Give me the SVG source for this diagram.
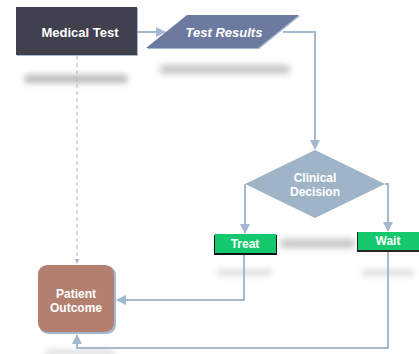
<svg xmlns="http://www.w3.org/2000/svg" width="419" height="354" viewBox="0 0 419 354">
<style>
.lbl{font-family:"Liberation Sans",Arial,sans-serif;font-weight:bold;fill:#ffffff;text-anchor:middle;dominant-baseline:central}
.conn{fill:none;stroke:#a3b9d0;stroke-width:2}
.dash{fill:none;stroke:#a3b9d0;stroke-width:1;stroke-dasharray:4 3}
.blur{fill:#b8b8b8;filter:url(#bl)}
</style>
<defs>
<filter id="bl" x="-30%" y="-200%" width="160%" height="500%"><feGaussianBlur stdDeviation="3"/></filter>
<marker id="ah" viewBox="0 0 10 10" refX="9" refY="5" markerWidth="5" markerHeight="5" orient="auto"><path d="M0,0 L10,5 L0,10 z" fill="#a3b9d0"/></marker>
</defs>
<rect width="419" height="354" fill="#ffffff"/>
<g id="shadows">
<rect class="blur" x="24" y="75" width="104" height="8" rx="4"/>
<rect class="blur" x="160" y="65" width="130" height="9" rx="4" opacity="0.8"/>
<rect class="blur" x="280" y="239" width="75" height="9" rx="4" opacity="0.8"/>
<rect class="blur" x="217" y="270" width="55" height="5" rx="2" opacity="0.6"/>
<rect class="blur" x="362" y="270" width="52" height="5" rx="2" opacity="0.6"/>
<rect class="blur" x="45" y="350" width="70" height="6" rx="3" opacity="0.5"/>
</g>
<g id="connectors">
<path class="conn" d="M137,32 H165" marker-end="url(#ah)"/>
<path class="conn" d="M283,32 H315 V149" marker-end="url(#ah)"/>
<path class="conn" d="M245,184 V233" marker-end="url(#ah)"/>
<path class="conn" d="M385,184 H388 V231" marker-end="url(#ah)"/>
<path class="dash" d="M77,56 V263" marker-end="url(#ah)"/>
<path class="conn" d="M244,255 V300 H117" marker-end="url(#ah)"/>
<path class="conn" d="M388,251 V348 H77 V335" marker-end="url(#ah)"/>
</g>
<g id="medical-test">
<rect x="17" y="8" width="121" height="48" fill="#a3b9d0"/>
<rect x="16" y="7" width="121" height="48" fill="#40404f"/>
<text class="lbl" x="80" y="32" font-size="13">Medical Test</text>
</g>
<g id="test-results">
<polygon points="188,16 300,16 259,49 147,49" fill="#a3b9d0"/>
<polygon points="187,15 299,15 258,48 146,48" fill="#6d7aa0"/>
<text class="lbl" x="224" y="32" font-size="13" font-style="italic">Test Results</text>
</g>
<g id="clinical-decision">
<polygon points="315,150 385,184 315,218 245,184" fill="#a0b4c8"/>
<text class="lbl" x="315" y="178" font-size="12">Clinical</text>
<text class="lbl" x="315" y="192" font-size="12">Decision</text>
</g>
<g id="treat">
<rect x="214" y="235" width="63" height="20" fill="#111111"/>
<rect x="215" y="234" width="61" height="19" fill="#14c86e"/>
<text class="lbl" x="245" y="244" font-size="12">Treat</text>
</g>
<g id="wait">
<rect x="357" y="232" width="62" height="20" fill="#222222"/>
<rect x="358" y="232" width="61" height="18" fill="#14c86e"/>
<text class="lbl" x="388" y="241" font-size="12">Wait</text>
</g>
<g id="patient-outcome">
<rect x="39" y="266" width="77" height="68" rx="9" fill="#a3b9d0"/>
<rect x="38" y="265" width="76" height="67" rx="9" fill="#b38070"/>
<text class="lbl" x="76" y="294" font-size="12">Patient</text>
<text class="lbl" x="76" y="308" font-size="12">Outcome</text>
</g>
</svg>
